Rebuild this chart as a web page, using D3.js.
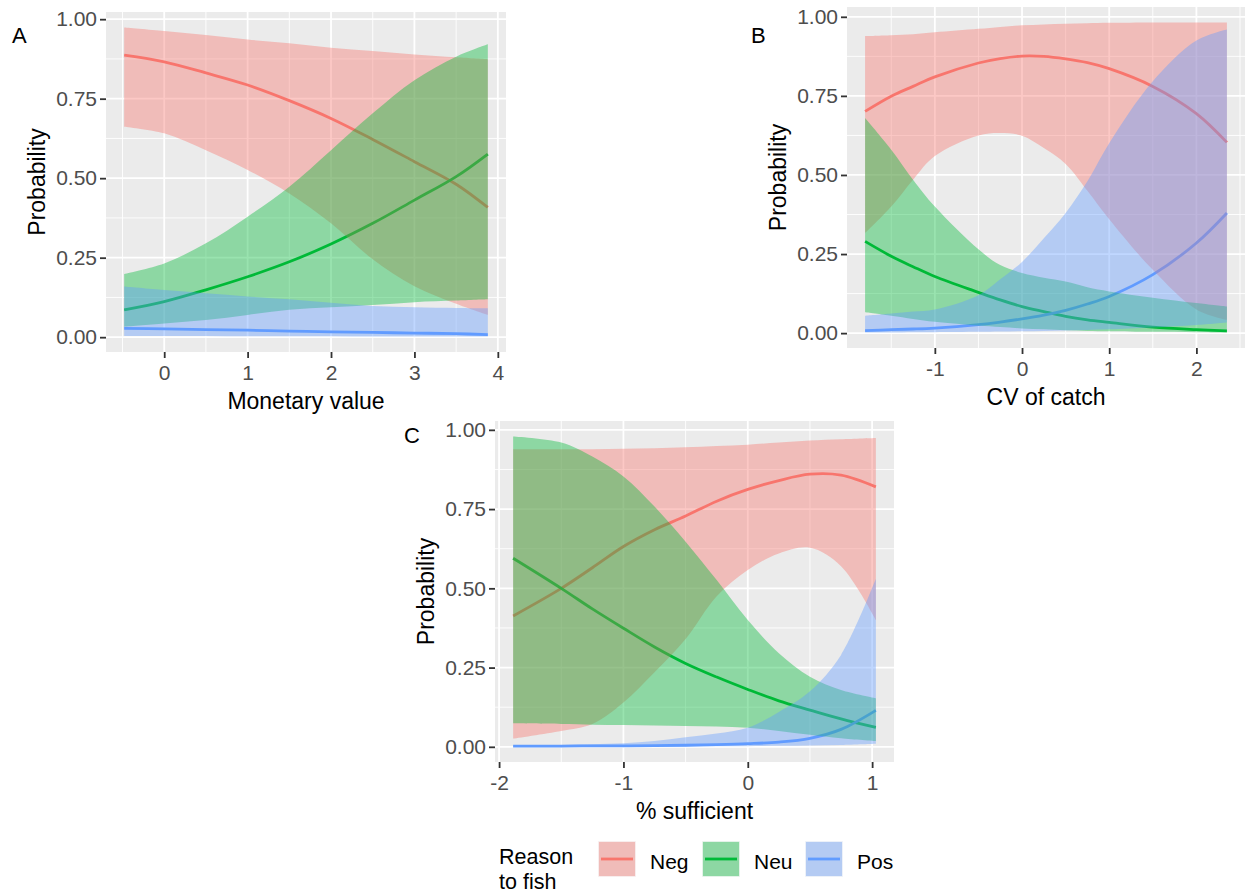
<!DOCTYPE html>
<html>
<head>
<meta charset="utf-8">
<script src="https://cdn.jsdelivr.net/npm/d3@7"></script>
<style>
body { margin: 0; background: white; }
svg text { font-family: "Liberation Sans", Arial, sans-serif; }
</style>
</head>
<body>
<main></main>
<script>
// Reason to fish - categories and ggplot colours
let reasons = ['Neg', 'Neu', 'Pos']
let reasonColors = ['#F8766D', '#00BA38', '#619CFF']

let yTicks = [0, 0.25, 0.5, 0.75, 1]
let yTickLabels = ['0.00', '0.25', '0.50', '0.75', '1.00']
let yMinor = [0.125, 0.375, 0.625, 0.875]

// Panel A - Monetary value
let aX = [-0.48, 0, 0.5, 1, 1.5, 2, 2.5, 3, 3.5, 3.88]
let aNegFit = [0.887, 0.866, 0.831, 0.793, 0.744, 0.688, 0.622, 0.552, 0.481, 0.408]
let aNegLo = [0.662, 0.641, 0.588, 0.526, 0.452, 0.358, 0.245, 0.16, 0.105, 0.07]
let aNegHi = [0.974, 0.963, 0.95, 0.936, 0.924, 0.91, 0.9, 0.889, 0.88, 0.874]
let aNeuFit = [0.086, 0.112, 0.149, 0.19, 0.237, 0.293, 0.358, 0.431, 0.505, 0.576]
let aNeuLo = [0.033, 0.043, 0.054, 0.07, 0.086, 0.094, 0.101, 0.11, 0.115, 0.119]
let aNeuHi = [0.199, 0.232, 0.295, 0.379, 0.473, 0.588, 0.704, 0.808, 0.882, 0.921]
let aPosFit = [0.028, 0.026, 0.024, 0.022, 0.019, 0.017, 0.015, 0.013, 0.011, 0.008]
let aPosLo = [0.004, 0.004, 0.004, 0.003, 0.003, 0.003, 0.002, 0.002, 0.002, 0.002]
let aPosHi = [0.159, 0.148, 0.138, 0.128, 0.119, 0.108, 0.098, 0.094, 0.092, 0.091]
let aXTicks = [0, 1, 2, 3, 4]
let aXMinor = [-0.5, 0.5, 1.5, 2.5, 3.5]

// Panel B - CV of catch
let bX = [-1.8, -1.5, -1.25, -1, -0.5, -0.25, 0, 0.25, 0.5, 0.75, 1, 1.5, 2, 2.35]
let bNegFit = [0.701, 0.749, 0.78, 0.81, 0.854, 0.868, 0.876, 0.875, 0.867, 0.855, 0.836, 0.78, 0.694, 0.603]
let bNegLo = [0.316, 0.4, 0.485, 0.56, 0.625, 0.633, 0.624, 0.585, 0.535, 0.45, 0.36, 0.2, 0.075, 0.042]
let bNegHi = [0.939, 0.942, 0.945, 0.951, 0.962, 0.968, 0.973, 0.976, 0.978, 0.98, 0.981, 0.982, 0.982, 0.982]
let bNeuFit = [0.29, 0.243, 0.21, 0.179, 0.129, 0.105, 0.084, 0.068, 0.053, 0.042, 0.034, 0.019, 0.011, 0.007]
let bNeuLo = [0.066, 0.055, 0.045, 0.036, 0.024, 0.019, 0.015, 0.012, 0.009, 0.007, 0.006, 0.004, 0.003, 0.002]
let bNeuHi = [0.68, 0.58, 0.485, 0.4, 0.265, 0.215, 0.19, 0.175, 0.163, 0.145, 0.132, 0.112, 0.095, 0.084]
let bPosFit = [0.008, 0.011, 0.013, 0.016, 0.027, 0.035, 0.045, 0.057, 0.072, 0.092, 0.116, 0.185, 0.285, 0.38]
let bPosLo = [0.002, 0.002, 0.003, 0.003, 0.004, 0.005, 0.006, 0.007, 0.008, 0.01, 0.012, 0.018, 0.026, 0.034]
let bPosHi = [0.055, 0.062, 0.068, 0.075, 0.12, 0.17, 0.225, 0.3, 0.38, 0.48, 0.6, 0.796, 0.925, 0.96]
let bXTicks = [-1, 0, 1, 2]
let bXMinor = [-1.5, -0.5, 0.5, 1.5, 2.5]

// Panel C - % sufficient
let cX = [-1.887, -1.5, -1.25, -1, -0.75, -0.5, -0.25, 0, 0.25, 0.5, 0.75, 1.03]
let cNegFit = [0.413, 0.5, 0.565, 0.632, 0.685, 0.728, 0.775, 0.812, 0.84, 0.86, 0.857, 0.82]
let cNegLo = [0.026, 0.05, 0.072, 0.14, 0.235, 0.34, 0.475, 0.558, 0.61, 0.628, 0.57, 0.4]
let cNegHi = [0.939, 0.939, 0.939, 0.94, 0.942, 0.945, 0.949, 0.953, 0.96, 0.966, 0.97, 0.974]
let cNeuFit = [0.595, 0.5, 0.435, 0.374, 0.315, 0.263, 0.22, 0.181, 0.145, 0.116, 0.088, 0.061]
let cNeuLo = [0.074, 0.072, 0.07, 0.069, 0.067, 0.066, 0.064, 0.06, 0.05, 0.038, 0.027, 0.018]
let cNeuHi = [0.979, 0.96, 0.916, 0.853, 0.758, 0.647, 0.526, 0.4, 0.295, 0.221, 0.179, 0.153]
let cPosFit = [0.002, 0.002, 0.003, 0.003, 0.004, 0.005, 0.007, 0.01, 0.015, 0.027, 0.055, 0.115]
let cPosLo = [0.001, 0.001, 0.001, 0.001, 0.001, 0.001, 0.002, 0.002, 0.003, 0.004, 0.006, 0.01]
let cPosHi = [0.004, 0.006, 0.008, 0.011, 0.018, 0.03, 0.042, 0.06, 0.11, 0.175, 0.29, 0.53]
let cXTicks = [-2, -1, 0, 1]
let cXMinor = [-1.5, -0.5, 0.5]

let svg = d3.select('main')
    .append('svg')
    .attr('width', 1248)
    .attr('height', 895)
    .style('background', 'white')
    .style('display', 'block')

// ggplot style 5% expansion
function expand(ext) {
    let pad = (ext[1] - ext[0]) * 0.05
    return [ext[0] - pad, ext[1] + pad]
}

function drawPanel(p) {
    let x = d3.scaleLinear()
        .domain(expand(d3.extent(p.x)))
        .range([p.left, p.right])
    let allY = d3.merge(p.series.map(s => s.lo.concat(s.hi)))
    let y = d3.scaleLinear()
        .domain(expand(d3.extent(allY)))
        .range([p.bottom, p.top])

    let g = svg.append('g')

    g.append('rect')
        .attr('x', p.left)
        .attr('y', p.top)
        .attr('width', p.right - p.left)
        .attr('height', p.bottom - p.top)
        .style('fill', '#EBEBEB')

    // minor grid
    g.selectAll('.vminor').data(p.xMinor).enter().append('line')
        .attr('x1', d => x(d)).attr('x2', d => x(d))
        .attr('y1', p.top).attr('y2', p.bottom)
        .style('stroke', 'white').style('stroke-width', 0.9)
    g.selectAll('.hminor').data(yMinor).enter().append('line')
        .attr('y1', d => y(d)).attr('y2', d => y(d))
        .attr('x1', p.left).attr('x2', p.right)
        .style('stroke', 'white').style('stroke-width', 0.9)
    // major grid
    g.selectAll('.vmajor').data(p.xTicks).enter().append('line')
        .attr('x1', d => x(d)).attr('x2', d => x(d))
        .attr('y1', p.top).attr('y2', p.bottom)
        .style('stroke', 'white').style('stroke-width', 1.8)
    g.selectAll('.hmajor').data(yTicks).enter().append('line')
        .attr('y1', d => y(d)).attr('y2', d => y(d))
        .attr('x1', p.left).attr('x2', p.right)
        .style('stroke', 'white').style('stroke-width', 1.8)

    let line = d3.line()
        .x((d, i) => x(p.x[i]))
        .y(d => y(d))
        .curve(d3.curveCatmullRom)
    let area = d3.area()
        .x(d => x(d.x))
        .y0(d => y(d.lo))
        .y1(d => y(d.hi))
        .curve(d3.curveCatmullRom)

    // fitted lines first, ribbons drawn over them
    p.series.forEach((s, k) => {
        g.append('path')
            .attr('d', line(s.fit))
            .style('fill', 'none')
            .style('stroke', reasonColors[k])
            .style('stroke-width', 2.8)
    })
    p.series.forEach((s, k) => {
        let pts = p.x.map((xv, i) => ({ x: xv, lo: s.lo[i], hi: s.hi[i] }))
        g.append('path')
            .attr('d', area(pts))
            .style('fill', reasonColors[k])
            .style('fill-opacity', 0.4)
    })

    // axes
    let yAxis = g.append('g')
        .attr('transform', `translate(${p.left},0)`)
        .call(d3.axisLeft(y).tickValues(yTicks).tickFormat((d, i) => yTickLabels[i]).tickSize(6).tickPadding(3))
    let xAxis = g.append('g')
        .attr('transform', `translate(0,${p.bottom})`)
        .call(d3.axisBottom(x).tickValues(p.xTicks).tickFormat(d => d).tickSize(6).tickPadding(7))
    ;[xAxis, yAxis].forEach(ax => {
        ax.select('.domain').remove()
        ax.selectAll('line').style('stroke', '#333333').style('stroke-width', 1.8)
        ax.selectAll('text')
            .style('font-family', '"Liberation Sans", Arial, sans-serif')
            .style('font-size', '21px')
            .style('fill', '#4D4D4D')
    })
    xAxis.selectAll('text').text(d => d < 0 ? '-' + Math.abs(d) : d)

    g.append('text')
        .attr('x', (p.left + p.right) / 2)
        .attr('y', p.bottom + 57)
        .attr('text-anchor', 'middle')
        .style('font-size', '23px')
        .style('fill', 'black')
        .text(p.xTitle)
    g.append('text')
        .attr('transform', `translate(${p.left - 61},${(p.top + p.bottom) / 2}) rotate(-90)`)
        .attr('text-anchor', 'middle')
        .style('font-size', '23px')
        .style('fill', 'black')
        .text('Probability')

    g.append('text')
        .attr('x', p.tagX)
        .attr('y', p.tagY)
        .style('font-size', '22px')
        .style('fill', 'black')
        .text(p.tag)
}

drawPanel({
    tag: 'A', tagX: 12, tagY: 43,
    left: 106, right: 506, top: 12, bottom: 352,
    x: aX, xTicks: aXTicks, xMinor: aXMinor, xTitle: 'Monetary value',
    series: [
        { fit: aNegFit, lo: aNegLo, hi: aNegHi },
        { fit: aNeuFit, lo: aNeuLo, hi: aNeuHi },
        { fit: aPosFit, lo: aPosLo, hi: aPosHi }
    ]
})

drawPanel({
    tag: 'B', tagX: 751, tagY: 43,
    left: 847, right: 1245, top: 7, bottom: 348,
    x: bX, xTicks: bXTicks, xMinor: bXMinor, xTitle: 'CV of catch',
    series: [
        { fit: bNegFit, lo: bNegLo, hi: bNegHi },
        { fit: bNeuFit, lo: bNeuLo, hi: bNeuHi },
        { fit: bPosFit, lo: bPosLo, hi: bPosHi }
    ]
})

drawPanel({
    tag: 'C', tagX: 404, tagY: 443,
    left: 495, right: 894, top: 421, bottom: 762,
    x: cX, xTicks: cXTicks, xMinor: cXMinor, xTitle: '% sufficient',
    series: [
        { fit: cNegFit, lo: cNegLo, hi: cNegHi },
        { fit: cNeuFit, lo: cNeuLo, hi: cNeuHi },
        { fit: cPosFit, lo: cPosLo, hi: cPosHi }
    ]
})

// Legend
let legend = svg.append('g')
legend.append('text')
    .attr('x', 499)
    .attr('y', 864)
    .style('font-size', '21.5px')
    .style('fill', 'black')
    .text('Reason')
legend.append('text')
    .attr('x', 499)
    .attr('y', 889)
    .style('font-size', '21.5px')
    .style('fill', 'black')
    .text('to fish')

let keyX = [598, 702, 805]
reasons.forEach((r, k) => {
    legend.append('rect')
        .attr('x', keyX[k]).attr('y', 841)
        .attr('width', 38).attr('height', 36)
        .style('fill', '#EBEBEB')
    legend.append('rect')
        .attr('x', keyX[k] + 0.5).attr('y', 841.5)
        .attr('width', 37).attr('height', 35)
        .style('fill', reasonColors[k])
        .style('fill-opacity', 0.4)
        .style('stroke', 'white')
        .style('stroke-opacity', 0.6)
        .style('stroke-width', 1)
    legend.append('line')
        .attr('x1', keyX[k] + 3).attr('x2', keyX[k] + 35)
        .attr('y1', 859).attr('y2', 859)
        .style('stroke', reasonColors[k])
        .style('stroke-width', 2.8)
    legend.append('text')
        .attr('x', keyX[k] + 52)
        .attr('y', 869)
        .style('font-size', '21px')
        .style('fill', 'black')
        .text(r)
})
</script>
</body>
</html>
